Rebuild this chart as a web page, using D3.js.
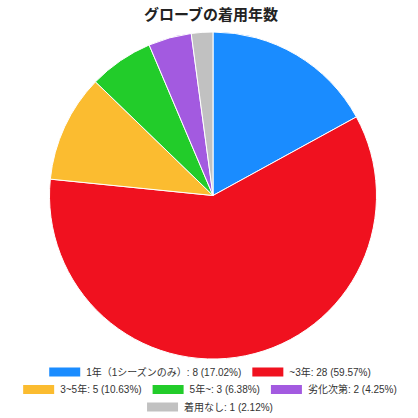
<!DOCTYPE html>
<html><head><meta charset="utf-8">
<script src="https://cdn.jsdelivr.net/npm/d3@7"></script>
<style>html,body{margin:0;padding:0;background:#fff;}svg{display:block;font-family:"Liberation Sans","Noto Sans CJK JP",sans-serif;}</style>
</head><body>
<svg id="c" width="418" height="418"></svg>
<script>
const title = "グローブの着用年数";
const categories = ["1年（1シーズンのみ）", "~3年", "3~5年", "5年~", "劣化次第", "着用なし"];
const values = [8, 28, 5, 3, 2, 1];
const colors = ["#1a8cff", "#f0111f", "#fbbc30", "#22cc2a", "#a35ae0", "#c1c1c1"];

const W = 418, H = 418;
const svg = d3.select("#c");
const cx = 213, cy = 195.5, R = 163.5;

svg.append("text").attr("x", 211).attr("y", 20).attr("text-anchor", "middle")
  .attr("font-size", 15).attr("font-weight", "bold").attr("fill", "#222")
  .style("font-family", '"Noto Sans CJK JP",sans-serif').text(title);

const total = d3.sum(values);
const data = categories.map((c, i) => ({cat: c, v: values[i], color: colors[i]}));
const pie = d3.pie().value(d => d.v).sort(null);
const arc = d3.arc().innerRadius(0).outerRadius(R);
svg.append("g").attr("transform", `translate(${cx},${cy})`)
  .selectAll("path").data(pie(data)).join("path")
  .attr("d", arc).attr("fill", d => d.data.color)
  .attr("stroke", "#fff").attr("stroke-width", 1);

// legend
const pct = v => (Math.floor(v / total * 10000) / 100).toFixed(2) + "%";
const labels = data.map(d => `${d.cat}: ${d.v} (${pct(d.v)})`);
const sw = 31, sh = 9, tg = 6, ig = 11, maxW = 400, rowH = 17.5, y0 = 372;
const lg = svg.append("g");
const items = data.map((d, i) => {
  const g = lg.append("g");
  g.append("rect").attr("width", sw).attr("height", sh).attr("y", -sh / 2).attr("fill", d.color);
  const t = g.append("text").attr("x", sw + tg).attr("dy", "0.35em").attr("font-size", 10)
    .attr("fill", "#333").text(labels[i]);
  return {g, w: sw + tg + t.node().getComputedTextLength()};
});
const rows = [[]]; let cw = 0;
items.forEach(it => {
  const add = (rows[rows.length - 1].length ? ig : 0) + it.w;
  if (cw + add > maxW && rows[rows.length - 1].length) { rows.push([it]); cw = it.w; }
  else { rows[rows.length - 1].push(it); cw += add; }
});
rows.forEach((r, ri) => {
  const rw = d3.sum(r, d => d.w) + ig * (r.length - 1);
  let x = 210 - rw / 2;
  r.forEach(it => { it.g.attr("transform", `translate(${x},${y0 + ri * rowH})`); x += it.w + ig; });
});
</script>
</body></html>
